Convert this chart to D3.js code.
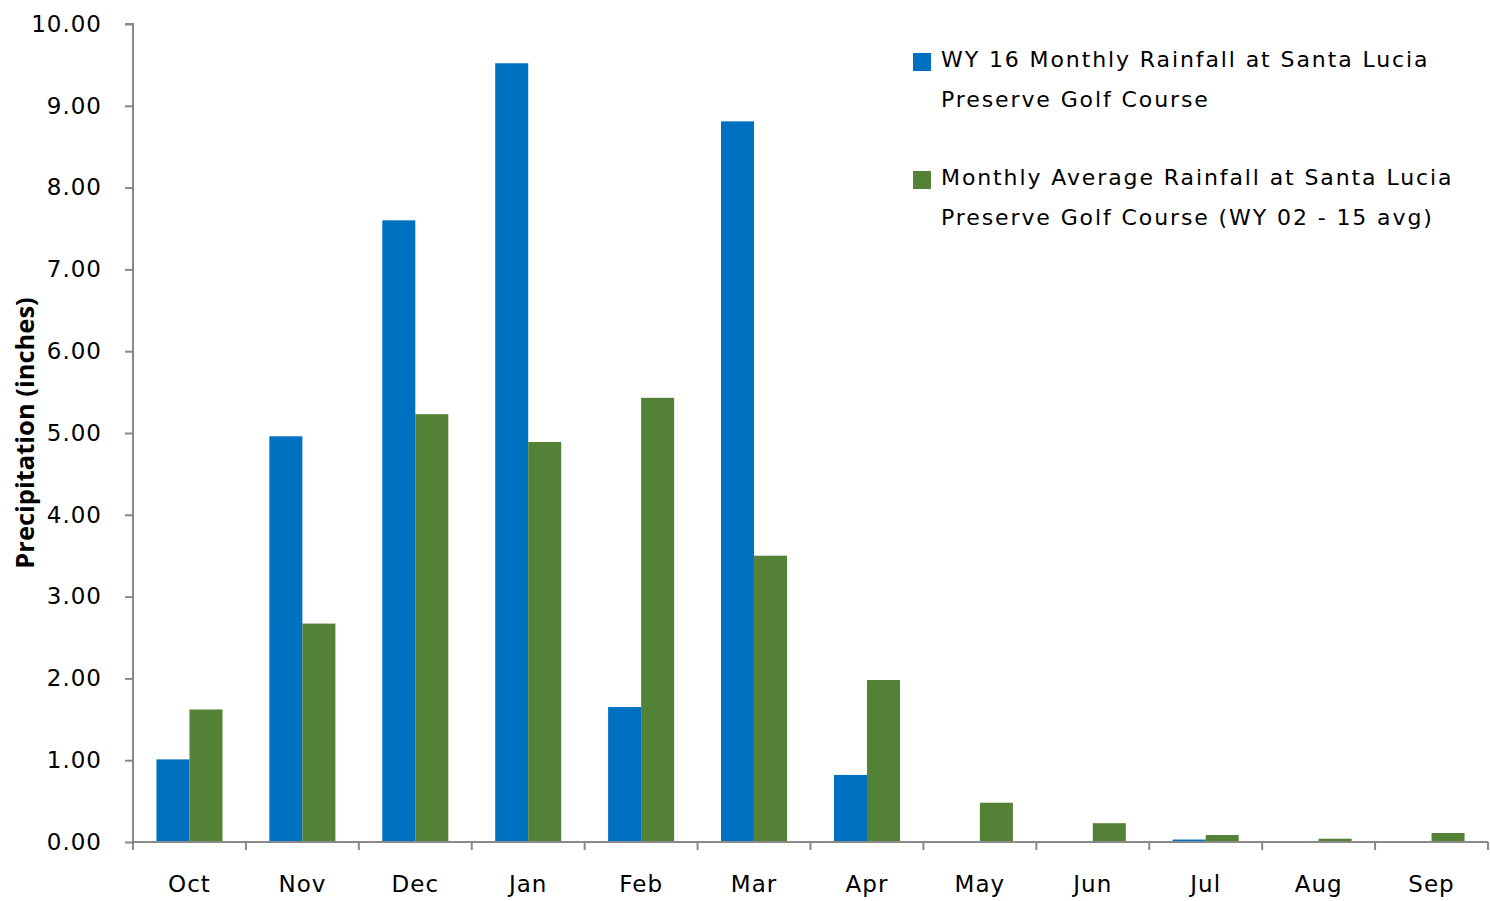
<!DOCTYPE html>
<html>
<head>
<meta charset="utf-8">
<script src="https://cdn.jsdelivr.net/npm/d3@7"></script>
<style>
  body { margin: 0; background: #fff; }
  text { font-family: "DejaVu Sans", sans-serif; fill: #000; }
</style>
</head>
<body>
<div id="chart"></div>
<script>
// monthly rainfall, inches
var months = ['Oct', 'Nov', 'Dec', 'Jan', 'Feb', 'Mar', 'Apr', 'May', 'Jun', 'Jul', 'Aug', 'Sep'];
var wy16 = [1.01, 4.96, 7.60, 9.52, 1.65, 8.81, 0.82, 0, 0, 0.03, 0, 0];
var avg0215 = [1.62, 2.67, 5.23, 4.89, 5.43, 3.50, 1.98, 0.48, 0.23, 0.085, 0.04, 0.11];
var yTicks = [0, 1, 2, 3, 4, 5, 6, 7, 8, 9, 10];
var seriesNames = [
  ['WY 16 Monthly Rainfall at Santa Lucia', 'Preserve Golf Course'],
  ['Monthly Average Rainfall at Santa Lucia', 'Preserve Golf Course (WY 02 - 15 avg)']
];
var colors = ['#0070c0', '#538135'];

var w = 1490, h = 901;
var margin = {top: 24, right: 2, bottom: 59, left: 133};

var svg = d3.select('#chart').append('svg')
  .attr('width', w)
  .attr('height', h);

var x = d3.scaleBand()
  .domain(months)
  .range([margin.left, w - margin.right])
  .padding(0);

var xSub = d3.scaleBand()
  .domain([0, 1])
  .range([0, x.bandwidth()])
  .paddingInner(0)
  .paddingOuter(0.71);

var y = d3.scaleLinear()
  .domain([0, 10])
  .range([h - margin.bottom, margin.top]);

var data = months.map(function (m, i) {
  return {month: m, vals: [wy16[i], avg0215[i]]};
});

// bars
var groups = svg.selectAll('.month')
  .data(data)
  .enter().append('g')
  .attr('class', 'month')
  .attr('transform', function (d) { return 'translate(' + x(d.month) + ',0)'; });

groups.selectAll('rect')
  .data(function (d) { return d.vals; })
  .enter().append('rect')
  .attr('x', function (d, i) { return xSub(i); })
  .attr('width', xSub.bandwidth())
  .attr('y', function (d) { return y(d); })
  .attr('height', function (d) { return y(0) - y(d); })
  .attr('fill', function (d, i) { return colors[i]; });

// y axis
var yAxis = svg.append('g')
  .attr('transform', 'translate(' + margin.left + ',0)')
  .call(d3.axisLeft(y).tickValues(yTicks).tickFormat(d3.format('.2f')).tickSize(8).tickPadding(23));

// x axis
var xAxis = svg.append('g')
  .attr('transform', 'translate(0,' + y(0) + ')')
  .call(d3.axisBottom(x).tickSize(0).tickPadding(34));

// category boundary ticks
xAxis.selectAll('.bound')
  .data(d3.range(months.length + 1))
  .enter().append('line')
  .attr('class', 'bound')
  .attr('x1', function (i) { return margin.left + i * x.step(); })
  .attr('x2', function (i) { return margin.left + i * x.step(); })
  .attr('y1', 0)
  .attr('y2', 8);

svg.selectAll('.domain, .tick line, .bound')
  .attr('stroke', '#898989')
  .attr('stroke-width', 2);

yAxis.selectAll('.domain').attr('d', 'M' + (-8) + ',' + y(10) + 'H0V' + y(0));
xAxis.selectAll('.domain').attr('d', 'M' + margin.left + ',0H' + (w - margin.right));

svg.selectAll('.tick text')
  .style('font-family', '"DejaVu Sans", sans-serif')
  .style('font-size', '23px')
  .style('letter-spacing', '1px')
  .attr('fill', '#000');

// y axis title
svg.append('text')
  .attr('transform', 'translate(34,' + ((y(0) + y(10)) / 2) + ') rotate(-90)')
  .attr('text-anchor', 'middle')
  .style('font-family', '"Open Sans", sans-serif')
  .style('font-weight', 'bold')
  .style('font-size', '25.5px')
  .text('Precipitation (inches)');

// legend
var legend = svg.selectAll('.legend')
  .data(seriesNames)
  .enter().append('g')
  .attr('class', 'legend')
  .attr('transform', function (d, i) { return 'translate(913,' + (53 + i * 118) + ')'; });

legend.append('rect')
  .attr('width', 18)
  .attr('height', 18)
  .attr('fill', function (d, i) { return colors[i]; });

legend.append('text')
  .attr('x', 28)
  .attr('y', 14)
  .style('font-size', '22px')
  .style('letter-spacing', '1.9px')
  .selectAll('tspan')
  .data(function (d) { return d; })
  .enter().append('tspan')
  .attr('x', 28)
  .attr('dy', function (d, i) { return i === 0 ? 0 : 40; })
  .text(function (d) { return d; });
</script>
</body>
</html>
